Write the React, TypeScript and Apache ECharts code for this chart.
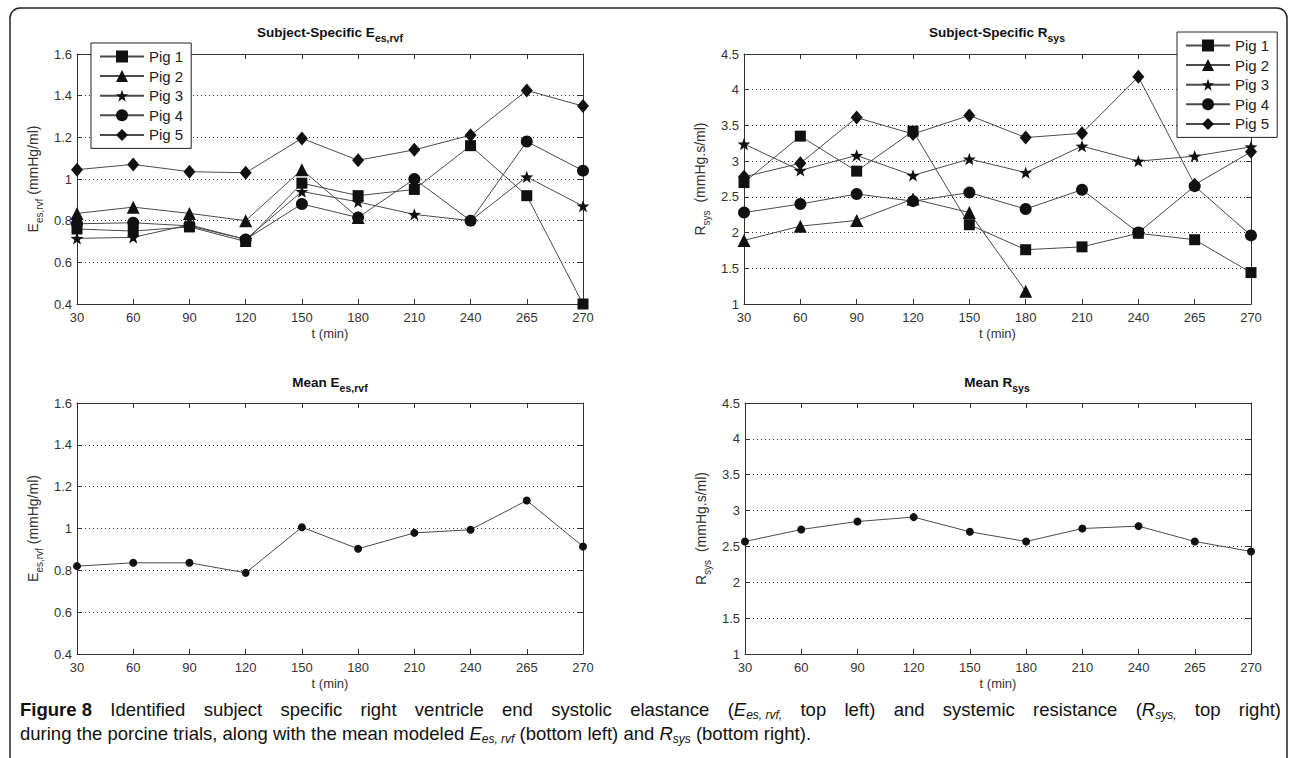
import React, { useEffect, useRef } from 'react';
import * as echarts from 'echarts';

const categories = ['30', '60', '90', '120', '150', '180', '210', '240', '265', '270'];
const pigNames = ['Pig 1', 'Pig 2', 'Pig 3', 'Pig 4', 'Pig 5'];

const eesPig1 = [0.76, 0.75, 0.77, 0.70, 0.98, 0.92, 0.95, 1.16, 0.92, 0.40];
const eesPig2 = [0.835, 0.865, 0.835, 0.80, 1.045, 0.815, null, null, null, null];
const eesPig3 = [0.715, 0.72, 0.78, 0.71, 0.94, 0.89, 0.83, 0.80, 1.01, 0.87];
const eesPig4 = [0.785, 0.79, 0.775, 0.71, 0.88, 0.815, 1.0, 0.80, 1.18, 1.04];
const eesPig5 = [1.045, 1.07, 1.035, 1.03, 1.195, 1.09, 1.14, 1.21, 1.425, 1.35];
const eesMean = [0.82, 0.836, 0.836, 0.788, 1.006, 0.903, 0.979, 0.994, 1.134, 0.914];

const rsysPig1 = [2.70, 3.35, 2.86, 3.42, 2.11, 1.76, 1.80, 1.99, 1.90, 1.44];
const rsysPig2 = [1.89, 2.09, 2.17, 2.47, 2.28, 1.18, null, null, null, null];
const rsysPig3 = [3.24, 2.87, 3.08, 2.80, 3.03, 2.84, 3.21, 3.00, 3.07, 3.20];
const rsysPig4 = [2.28, 2.40, 2.54, 2.44, 2.56, 2.33, 2.60, 2.00, 2.65, 1.96];
const rsysPig5 = [2.78, 2.97, 3.61, 3.38, 3.64, 3.33, 3.39, 4.18, 2.67, 3.13];
const rsysMean = [2.569, 2.736, 2.848, 2.909, 2.704, 2.569, 2.75, 2.783, 2.569, 2.43];

const eesTicks = { min: 0.4, max: 1.6, interval: 0.2 };
const rsysTicks = { min: 1, max: 4.5, interval: 0.5 };

const captionLine1: [string, string][] = [
  ['b', 'Figure 8'],
  ['n', ' Identified subject specific right ventricle end systolic elastance ('],
  ['i', 'E'], ['s', 'es, rvf,'],
  ['n', ' top left) and systemic resistance ('],
  ['i', 'R'], ['s', 'sys,'],
  ['n', ' top right)'],
];
const captionLine2: [string, string][] = [
  ['n', 'during the porcine trials, along with the mean modeled '],
  ['i', 'E'], ['s', 'es, rvf'],
  ['n', ' (bottom left) and '],
  ['i', 'R'], ['s', 'sys'],
  ['n', ' (bottom right).'],
];

const FONT = '"Liberation Sans", Arial, Helvetica, sans-serif';
const CAP_SIZE = 18.5;
const SUB_SIZE = 12;
const STAR = 'path://M0,-10L2.35,-3.24L9.51,-3.09L3.8,1.24L5.88,8.09L0,4L-5.88,8.09L-3.8,1.24L-9.51,-3.09L-2.35,-3.24Z';

const pigSymbols: any[] = [
  { symbol: 'rect', size: 11 },
  { symbol: 'triangle', size: 13 },
  { symbol: STAR, size: 13 },
  { symbol: 'circle', size: 12 },
  { symbol: 'diamond', size: [12, 14] },
];

const grids = [
  { left: 77, top: 54, width: 506, height: 250 },
  { left: 744, top: 54, width: 507, height: 250 },
  { left: 77, top: 403, width: 506, height: 251 },
  { left: 745, top: 403, width: 506, height: 251 },
];

const AX = '#333';

function xAxes(g: number) {
  return [
    {
      type: 'category', gridIndex: g, data: categories, boundaryGap: false, position: 'bottom',
      axisLine: { show: true, onZero: false, lineStyle: { color: AX, width: 1 } },
      axisTick: { show: true, inside: true, length: 5, interval: 0, lineStyle: { color: AX } },
      axisLabel: { interval: 0, color: '#333', fontSize: 13, fontFamily: FONT, margin: 7 },
      splitLine: { show: false },
      name: 't (min)', nameLocation: 'middle', nameGap: 23,
      nameTextStyle: { fontSize: 13, color: '#333', fontFamily: FONT },
    },
    {
      type: 'category', gridIndex: g, data: categories, boundaryGap: false, position: 'top',
      axisLine: { show: true, onZero: false, lineStyle: { color: AX, width: 1 } },
      axisTick: { show: true, inside: true, length: 5, interval: 0, lineStyle: { color: AX } },
      axisLabel: { show: false },
      splitLine: { show: false },
    },
  ];
}

function yAxes(g: number, t: any, name: string, nameGap: number) {
  return [
    {
      type: 'value', gridIndex: g, min: t.min, max: t.max, interval: t.interval, position: 'left',
      axisLine: { show: true, onZero: false, lineStyle: { color: AX, width: 1 } },
      axisTick: { show: true, inside: true, length: 5, lineStyle: { color: AX } },
      axisLabel: { color: '#333', fontSize: 13, fontFamily: FONT, margin: 5 },
      splitLine: { show: true, lineStyle: { color: '#333', type: [1, 3], width: 1 } },
      name, nameLocation: 'middle', nameGap,
      nameTextStyle: {
        color: '#333', fontFamily: FONT,
        rich: {
          m: { fontSize: 14, lineHeight: 22, color: '#333', fontFamily: FONT },
          s: { fontSize: 10, lineHeight: 10, verticalAlign: 'bottom', color: '#333', fontFamily: FONT },
        },
      },
    },
    {
      type: 'value', gridIndex: g, min: t.min, max: t.max, interval: t.interval, position: 'right',
      axisLine: { show: true, onZero: false, lineStyle: { color: AX, width: 1 } },
      axisTick: { show: true, inside: true, length: 5, lineStyle: { color: AX } },
      axisLabel: { show: false },
      splitLine: { show: false },
    },
  ];
}

function pigSeries(g: number, sets: any[]) {
  return sets.map((d, i) => ({
    type: 'line', name: pigNames[i], data: d, xAxisIndex: 2 * g, yAxisIndex: 2 * g,
    symbol: pigSymbols[i].symbol, symbolSize: pigSymbols[i].size, symbolKeepAspect: true,
    showAllSymbol: true, connectNulls: false,
    lineStyle: { color: '#4a4a4a', width: 1 }, itemStyle: { color: '#111' },
    emphasis: { disabled: true }, z: 3,
  }));
}

function meanSeries(g: number, d: number[]) {
  return {
    type: 'line', name: 'Mean', data: d, xAxisIndex: 2 * g, yAxisIndex: 2 * g,
    symbol: 'circle', symbolSize: 8, showAllSymbol: true,
    lineStyle: { color: '#4a4a4a', width: 1 }, itemStyle: { color: '#111' },
    emphasis: { disabled: true }, z: 3,
  };
}

function legend(left: number, top: number) {
  return {
    data: pigNames, orient: 'vertical', left, top,
    itemWidth: 44, itemHeight: 15, itemGap: 4.6, itemTextGap: 2,
    padding: [6, 8, 6, 8], borderColor: '#222', borderWidth: 1, backgroundColor: '#fff',
    textStyle: { fontSize: 15, color: '#222', fontFamily: FONT, lineHeight: 15 },
    selectedMode: false, z: 10,
  };
}

const titleRich = {
  t: { fontSize: 13.5, fontWeight: 'bold', fontFamily: FONT, fill: '#111', lineHeight: 22 },
  s: { fontSize: 10.5, fontWeight: 'bold', fontFamily: FONT, fill: '#111', lineHeight: 10, verticalAlign: 'bottom' },
};

function title(x: number, y: number, text: string) {
  return {
    type: 'text', x, y, z: 20,
    style: { text, rich: titleRich, align: 'center', verticalAlign: 'middle', fill: '#111', font: 'bold 13.5px ' + FONT },
  };
}

function fontFor(k: string) {
  if (k === 'b') return `bold ${CAP_SIZE}px ${FONT}`;
  if (k === 'i') return `italic ${CAP_SIZE}px ${FONT}`;
  if (k === 's') return `italic ${SUB_SIZE}px ${FONT}`;
  return `${CAP_SIZE}px ${FONT}`;
}

// build rich caption text; if target given, stretch inter-word spaces to fill the line (justified)
function buildCaption(segs: [string, string][], target: number | null) {
  const ctx = document.createElement('canvas').getContext('2d') as CanvasRenderingContext2D;
  const measure = (k: string, t: string) => { ctx.font = fontFor(k); return ctx.measureText(t).width; };
  const parts: [string, string][] = [];
  let total = 0;
  let nsp = 0;
  segs.forEach(([k, t]) => {
    if (k === 'n') {
      const words = t.split(' ');
      words.forEach((w, idx) => {
        if (idx > 0) { parts.push(['sp', ' ']); nsp++; }
        if (w) { parts.push([k, w]); total += measure(k, w); }
      });
    } else {
      parts.push([k, t]);
      total += measure(k, t);
    }
  });
  const normal = measure('n', ' ');
  const spw = target && nsp ? Math.max(normal, (target - total) / nsp) : normal;
  return { text: parts.map(([k, t]) => `{${k}|${t}}`).join(''), spw };
}

function capRich(spw: number) {
  return {
    b: { fontSize: CAP_SIZE, fontWeight: 'bold', fontFamily: FONT, fill: '#111', lineHeight: 24 },
    n: { fontSize: CAP_SIZE, fontFamily: FONT, fill: '#111', lineHeight: 24 },
    i: { fontSize: CAP_SIZE, fontStyle: 'italic', fontFamily: FONT, fill: '#111', lineHeight: 24 },
    s: { fontSize: SUB_SIZE, fontStyle: 'italic', fontFamily: FONT, fill: '#111', lineHeight: 12, verticalAlign: 'bottom' },
    sp: { fontSize: CAP_SIZE, fontFamily: FONT, fill: '#111', lineHeight: 24, width: spw },
  };
}

export default function App() {
  const ref = useRef<HTMLDivElement>(null);
  useEffect(() => {
    if (!ref.current) return;
    const chart = echarts.init(ref.current, undefined, { renderer: 'svg' });
    const eesName = '{m|E}{s|es,rvf}{m| (mmHg/ml)}';
    const rsysName = '{m|R}{s|sys}{m|  (mmHg.s/ml)}';
    const c1 = buildCaption(captionLine1, 1261);
    const c2 = buildCaption(captionLine2, null);
    chart.setOption({
      animation: false,
      backgroundColor: '#fff',
      grid: grids.map((g) => ({ ...g, containLabel: false, show: false })),
      xAxis: [...xAxes(0), ...xAxes(1), ...xAxes(2), ...xAxes(3)],
      yAxis: [
        ...yAxes(0, eesTicks, eesName, 33),
        ...yAxes(1, rsysTicks, rsysName, 33),
        ...yAxes(2, eesTicks, eesName, 33),
        ...yAxes(3, rsysTicks, rsysName, 33),
      ],
      legend: [legend(91, 43), legend(1177, 32)],
      series: [
        ...pigSeries(0, [eesPig1, eesPig2, eesPig3, eesPig4, eesPig5]),
        ...pigSeries(1, [rsysPig1, rsysPig2, rsysPig3, rsysPig4, rsysPig5]),
        meanSeries(2, eesMean),
        meanSeries(3, rsysMean),
      ],
      graphic: [
        {
          type: 'rect', z: 0, silent: true,
          shape: { x: 10, y: 8, width: 1277, height: 800, r: [10, 10, 0, 0] },
          style: { fill: 'none', stroke: '#222', lineWidth: 1.5 },
        },
        title(330, 32, '{t|Subject-Specific E}{s|es,rvf}'),
        title(997, 32, '{t|Subject-Specific R}{s|sys}'),
        title(330, 382, '{t|Mean E}{s|es,rvf}'),
        title(997, 382, '{t|Mean R}{s|sys}'),
        {
          type: 'text', x: 20, y: 709, z: 20,
          style: { text: c1.text, rich: capRich(c1.spw), align: 'left', verticalAlign: 'middle', font: `${CAP_SIZE}px ${FONT}`, fill: '#111' },
        },
        {
          type: 'text', x: 20, y: 733, z: 20,
          style: { text: c2.text, rich: capRich(c2.spw), align: 'left', verticalAlign: 'middle', font: `${CAP_SIZE}px ${FONT}`, fill: '#111' },
        },
      ],
    });
    return () => chart.dispose();
  }, []);
  return <div ref={ref} style={{ position: 'fixed', left: 0, top: 0, width: 1290, height: 758, background: '#fff' }} />;
}
